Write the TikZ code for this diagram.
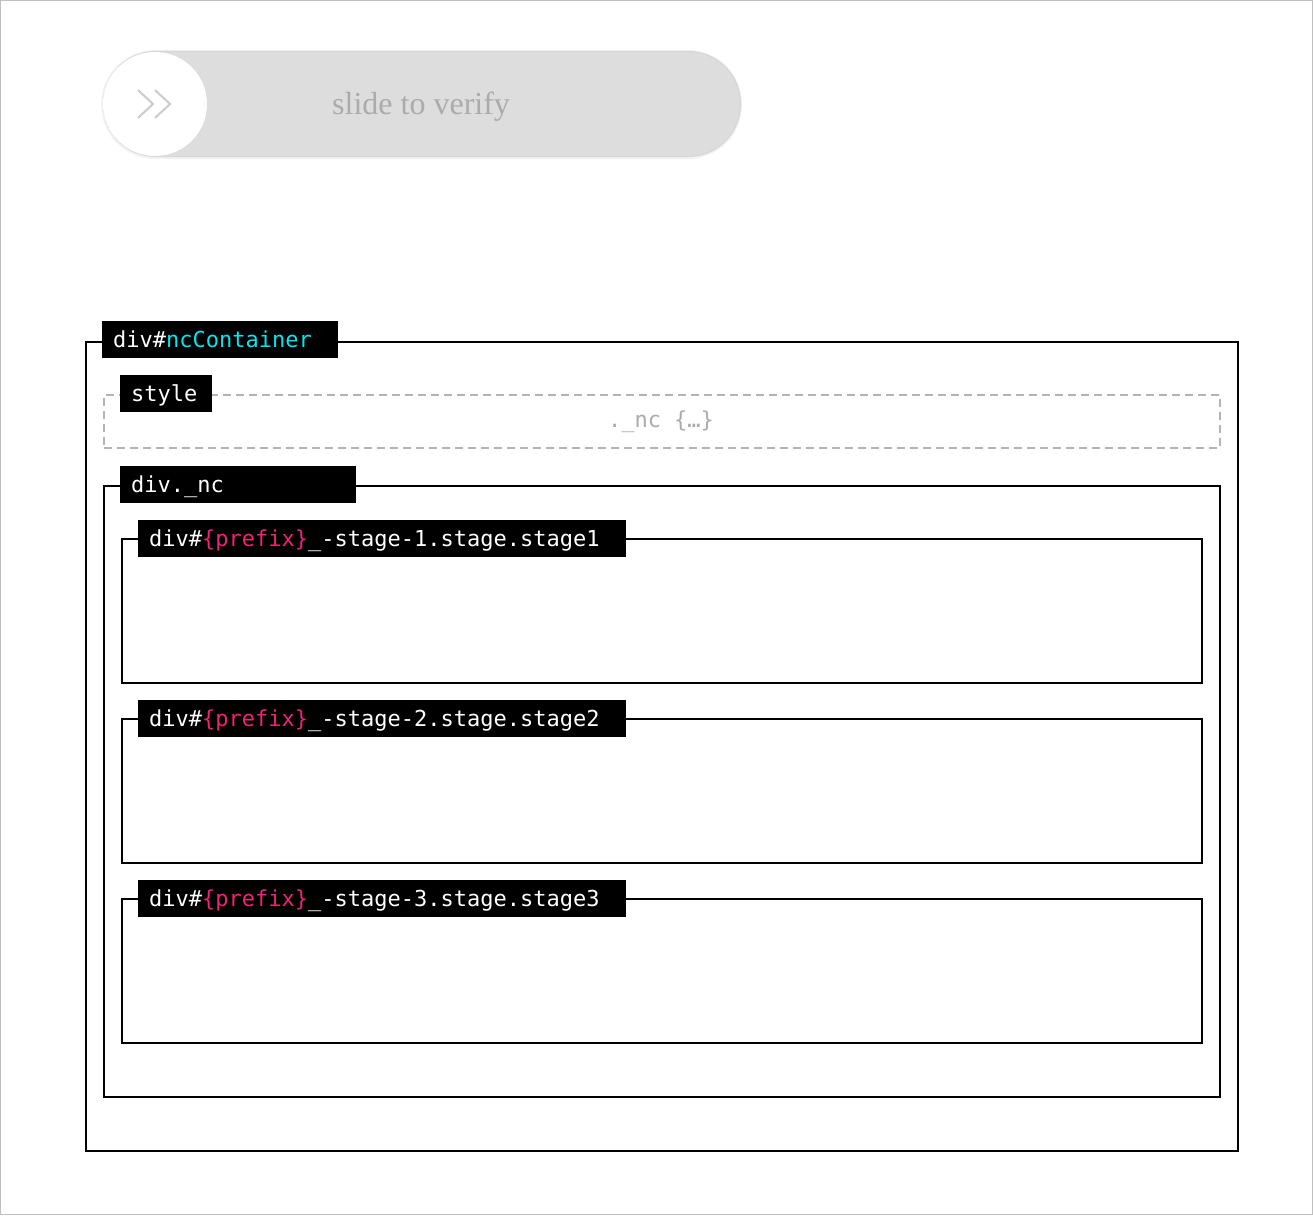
\documentclass[tikz,border=0pt]{standalone}
\usepackage{fontspec}
\setmainfont{Liberation Serif}
\setmonofont{DejaVu Sans Mono}
\definecolor{pillgray}{HTML}{DDDDDD}
\definecolor{pilltext}{HTML}{ABABAB}
\definecolor{tagcyan}{HTML}{00E8EE}
\definecolor{tagpink}{HTML}{F02275}
\definecolor{dashgray}{HTML}{B4B4B4}
\newcommand{\tagfont}{\fontsize{22}{24}\selectfont\ttfamily}
\newcommand{\pref}{\textcolor{tagpink}{\{prefix\}}}

\tikzset{
  frame/.style={draw=black, line width=2pt, anchor=north west, inner sep=0pt},
  tag/.style={fill=black, text=white, anchor=north west, align=left,
    inner xsep=11pt, inner ysep=0pt, minimum height=37pt,
    text height=17pt, text depth=2pt, font=\tagfont},
}

\begin{document}
\begin{tikzpicture}[x=1pt, y=-1pt]
    \useasboundingbox (0,0) rectangle (1313,1215);
    \draw[black!25, line width=1pt] (0.5,0.5) rectangle (1312.5,1214.5);

    % slider
    \fill[black!5, rounded corners=54pt] (101,50) rectangle (742,159);
    \node[draw=black!16, fill=pillgray, line width=1pt, rounded corners=52pt,
      minimum width=637pt, minimum height=105pt, anchor=north west, inner sep=0pt]
      (pill) at (103,51) {};
    \node[circle, fill=white, minimum size=104pt, inner sep=0pt] (knob) at (155,104) {};
    \draw[black!20, line width=2pt] (138,90) -- (153,104) -- (138,118)
      (155,90) -- (170,104) -- (155,118);
    \node[anchor=base west, inner sep=0pt, text=pilltext,
      font=\fontsize{32}{34}\selectfont] (slide) at (332,114) {slide to verify};

    % div#ncContainer
    \node[frame, minimum width=1152pt, minimum height=809pt] (container) at (85,341) {};
    \node[tag, text width=214pt] (containertag) at (102,321)
      {div\#\textcolor{tagcyan}{ncContainer}};

    % style
    \node[frame, draw=dashgray, line width=1.5pt, dash pattern=on 8pt off 5pt,
      minimum width=1116pt, minimum height=53pt] (stylebox) at (103,394) {};
    \node[tag, text width=70pt] (styletag) at (120,375) {style};
    \node[font=\tagfont, text=pilltext, inner sep=0pt] (stylerule) at (661,422)
      {.\_nc \{…\}};

    % div._nc
    \node[frame, minimum width=1116pt, minimum height=611pt] (ncbox) at (103,485) {};
    \node[tag, text width=214pt] (nctag) at (120,466) {div.\_nc};

    % stages
    \foreach \i/\y in {1/538, 2/718, 3/898} {
      \node[frame, minimum width=1080pt, minimum height=144pt] (stage\i) at (121,\y) {};
      \node[tag, text width=466pt] (stagetag\i) at (138,\y-18)
        {div\#\pref\_-stage-\i.stage.stage\i};
    }
\end{tikzpicture}
\end{document}
